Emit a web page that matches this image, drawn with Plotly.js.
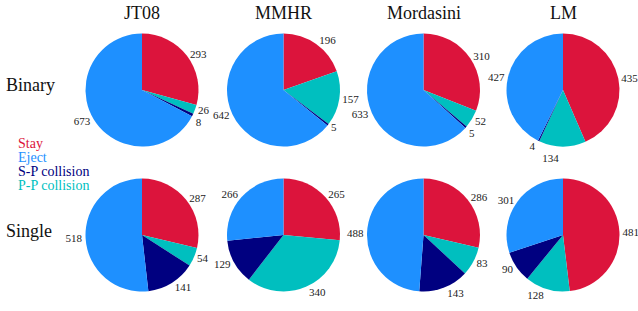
<!DOCTYPE html>
<html><head><meta charset="utf-8">
<script src="https://cdn.plot.ly/plotly-3.0.1.min.js"></script>
<style>html,body{margin:0;padding:0;background:#fff}
path.textline{display:none !important}</style>
</head><body><div id="chart" style="width:638px;height:311px"></div>
<script>
const models = ["JT08", "MMHR", "Mordasini", "LM"];
const rows = ["Binary", "Single"];
const outcomes = ["Stay", "P-P collision", "S-P collision", "Eject"];
const legendOrder = ["Stay", "Eject", "S-P collision", "P-P collision"];
const colors = {"Stay": "#DC143C", "Eject": "#1E90FF", "S-P collision": "#000080", "P-P collision": "#00BFBF"};
// values in order Stay, P-P collision, S-P collision, Eject
const binary = {
  "JT08": [293, 26, 8, 673],
  "MMHR": [196, 157, 5, 642],
  "Mordasini": [310, 52, 5, 633],
  "LM": [435, 134, 4, 427]
};
const single = {
  "JT08": [287, 54, 141, 518],
  "MMHR": [265, 340, 129, 266],
  "Mordasini": [286, 83, 143, 488],
  "LM": [481, 128, 90, 301]
};

const W = 638, H = 311;
const cx = [142, 283.5, 423.5, 563];
const cy = [90, 235];
const R = 56.5;
const font = "'Liberation Serif', 'DejaVu Serif', serif";
const labelFont = {family: font, size: 11, color: "#222"};

const data = [];
[binary, single].forEach((set, ri) => {
  models.forEach((m, ci) => {
    data.push({
      type: "pie",
      values: set[m],
      labels: outcomes,
      sort: false,
      direction: "clockwise",
      rotation: 0,
      marker: {colors: outcomes.map(o => colors[o]), line: {width: 0}},
      textinfo: "value",
      textposition: "outside",
      textfont: labelFont,
      outsidetextfont: labelFont,
      showlegend: false,
      hoverinfo: "label+value",
      domain: {
        x: [(cx[ci] - R) / W, (cx[ci] + R) / W],
        y: [1 - (cy[ri] + R) / H, 1 - (cy[ri] - R) / H]
      }
    });
  });
});

const annotations = [];
models.forEach((m, ci) => {
  annotations.push({text: m, x: cx[ci] / W, y: 1 - 13 / H, xref: "paper", yref: "paper",
    showarrow: false, xanchor: "center", yanchor: "middle", font: {family: font, size: 18, color: "#111"}});
});
const rowY = [85, 231];
rows.forEach((r, ri) => {
  annotations.push({text: r, x: 4 / W, y: 1 - rowY[ri] / H, xref: "paper", yref: "paper",
    showarrow: false, xanchor: "left", yanchor: "middle", font: {family: font, size: 18, color: "#111"}});
});
const legY = [143.5, 157.5, 171.5, 185.5];
legendOrder.forEach((o, i) => {
  annotations.push({text: o, x: 17 / W, y: 1 - legY[i] / H, xref: "paper", yref: "paper",
    showarrow: false, xanchor: "left", yanchor: "middle", borderpad: 0,
    font: {family: font, size: 14, color: colors[o]}});
});

Plotly.newPlot("chart", data, {
  width: W, height: H,
  margin: {l: 0, r: 0, t: 0, b: 0},
  paper_bgcolor: "#fff",
  showlegend: false,
  font: {family: font},
  annotations: annotations
}, {staticPlot: true});
</script></body></html>
